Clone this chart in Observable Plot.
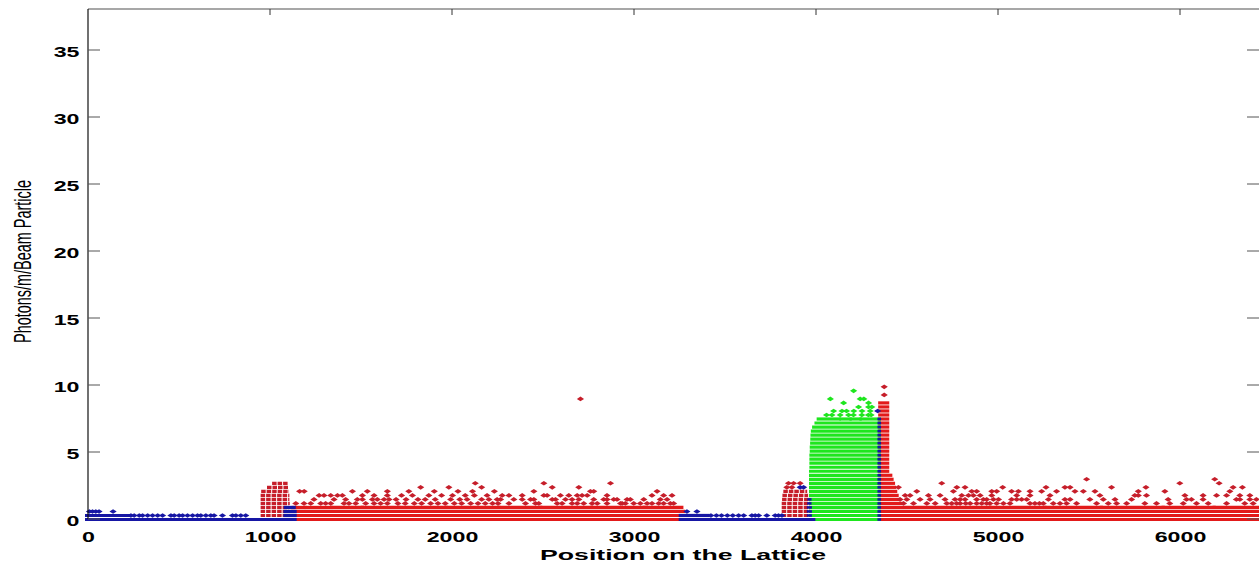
<!DOCTYPE html>
<html><head><meta charset="utf-8">
<script src="https://cdn.jsdelivr.net/npm/d3@7"></script>
<script src="https://cdn.jsdelivr.net/npm/@observablehq/plot@0.6"></script>
<style>
html,body{margin:0;padding:0;background:#fff;overflow:hidden}
#chart svg{display:block}
</style></head><body><div id="chart"></div>
<script>
// ---- tick labels / titles ----
const xTicks = [0, 1000, 2000, 3000, 4000, 5000, 6000];
const yTicks = [0, 5, 10, 15, 20, 25, 30, 35];
const xTitle = "Position on the Lattice";
const yTitle = "Photons/m/Beam Particle";

// ---- dense runs of points: [level, xStart, xEnd] ----
const redRows = [
  [0,1130,3265],[0.3,1130,3265],[0.6,1130,3265],
  [0.9,1135,1185],[0.9,1200,1330],[0.9,1345,1500],[0.9,1515,1700],[0.9,1715,1960],[0.9,1975,2250],
  [0.9,2265,2480],[0.9,2495,2760],[0.9,2775,3050],[0.9,3065,3255],
  [0,4358,6434],[0.3,4358,6434],[0.6,4358,6434],
  [0.9,4358,4740],[0.9,4755,4950],[0.9,4965,5250],[0.9,5265,5560],[0.9,5575,5900],[0.9,5915,6180],[0.9,6195,6434],
  [1.2,4358,4460],[1.5,4358,4445],[1.8,4358,4438],[2.1,4358,4430],[2.4,4358,4424],[2.7,4358,4418],
  [3.0,4358,4410],[3.3,4358,4403],
  [3.6,4358,4386],[3.9,4358,4386],[4.2,4358,4386],[4.5,4358,4386],[4.8,4358,4386],[5.1,4358,4386],
  [5.4,4358,4386],[5.7,4358,4386],[6.0,4358,4386],[6.3,4358,4386],[6.6,4358,4386],[6.9,4358,4386],
  [7.2,4358,4386],[7.5,4358,4386],[7.8,4358,4386],[8.1,4358,4386],[8.4,4358,4386],[8.7,4358,4386]
];
const clusterRows = [
  [0.3,965,1090],[0.6,965,1090],[0.9,965,1090],[1.2,965,1092],[1.5,965,1090],[1.8,965,1090],
  [2.1,968,1088],[2.4,1000,1085],[2.7,1028,1085],
  [0.3,3828,3950],[0.6,3828,3950],[0.9,3828,3950],[1.2,3828,3948],[1.5,3830,3945],[1.8,3832,3940],
  [2.1,3837,3935]
];
const greenRows = [
  [0,3978,4340],[0.3,3978,4340],[0.6,3978,4340],[0.9,3978,4340],[1.2,3978,4340],[1.5,3978,4340],
  [1.8,3978,4340],[2.1,3978,4340],[2.4,3978,4340],[2.7,3978,4340],[3.0,3978,4340],[3.3,3978,4340],
  [3.6,3978,4340],[3.9,3980,4340],[4.2,3980,4340],[4.5,3980,4340],[4.8,3980,4340],[5.1,3982,4340],
  [5.4,3982,4340],[5.7,3984,4340],[6.0,3985,4340],[6.3,3986,4340],[6.6,3988,4340],[6.9,3995,4340],
  [7.2,4008,4340],
  [7.5,4020,4120],[7.5,4145,4180],[7.5,4200,4235],[7.5,4255,4340]
];
const blueRows = [
  [0,0,1130],[0.3,0,215],[0.3,1090,1130],[0.6,1090,1130],[0.9,1092,1125],
  [0,3262,3980],[0.3,3262,3400]
];
const blueEdgeRows = [
  [0.3,3955,3972],[0.6,3955,3972],[0.9,3955,3972],[1.2,3957,3970],[1.5,3958,3970],
  [0,4343,4352],[0.3,4343,4352],[0.6,4343,4352],[0.9,4343,4352],[1.2,4343,4352],[1.5,4343,4352],
  [1.8,4343,4352],[2.1,4343,4352],[2.4,4343,4352],[2.7,4343,4352],[3.0,4343,4352],[3.3,4343,4352],
  [3.6,4343,4352],[3.9,4343,4352],[4.2,4343,4352],[4.5,4343,4352],[4.8,4343,4352],[5.1,4343,4352],
  [5.4,4343,4352],[5.7,4343,4352],[6.0,4343,4352],[6.3,4343,4352],[6.6,4343,4352],[6.9,4343,4352],
  [7.2,4343,4352],[7.5,4343,4352]
];

// ---- isolated points: [x, level] ----
const bluePts = [
  [233,0.3],[251,0.3],[279,0.3],[297,0.3],[325,0.3],[352,0.3],[380,0.3],[407,0.3],[453,0.3],[471,0.3],
  [498,0.3],[517,0.3],[544,0.3],[572,0.3],[599,0.3],[617,0.3],[645,0.3],[672,0.3],[690,0.3],[736,0.3],
  [791,0.3],[810,0.3],[837,0.3],[864,0.3],
  [5,0.6],[22,0.6],[40,0.6],[58,0.6],[135,0.6],
  [3420,0.3],[3450,0.3],[3478,0.3],[3510,0.3],[3540,0.3],[3572,0.3],[3600,0.3],[3645,0.3],[3663,0.3],
  [3682,0.3],[3727,0.3],[3773,0.3],[3791,0.3],[3810,0.3],
  [3288,0.6],[3343,0.6],
  [3910,2.4],[3929,2.4],[4336,8.1]
];
const greenPts = [
  [4055,7.8],[4085,7.8],[4130,7.8],[4176,7.8],[4203,7.8],[4249,7.8],[4285,7.8],[4300,7.8],
  [4094,8.1],[4140,8.1],[4165,8.1],[4205,8.1],[4250,8.1],[4295,8.1],
  [4231,8.4],[4286,8.4],[4304,8.4],
  [4149,8.7],[4286,8.7],
  [4076,9.0],[4240,9.0],[4260,9.0],
  [4204,9.6]
];
const redPts = [
  // 1130-3265
  [1139,1.2],[1184,1.2],[1221,1.2],[1276,1.2],[1303,1.2],[1331,1.2],[1404,1.2],[1431,1.2],[1468,1.2],[1523,1.2],
  [1569,1.2],[1605,1.2],[1642,1.2],[1700,1.2],[1740,1.2],[1790,1.2],[1830,1.2],[1880,1.2],[1920,1.2],[1960,1.2],
  [2010,1.2],[2050,1.2],[2100,1.2],[2140,1.2],[2180,1.2],[2220,1.2],[2250,1.2],[2310,1.2],[2401,1.2],[2456,1.2],
  [2474,1.2],[2575,1.2],[2602,1.2],[2657,1.2],[2685,1.2],[2721,1.2],[2767,1.2],[2795,1.2],[2849,1.2],[2923,1.2],
  [2932,1.2],[2950,1.2],[2996,1.2],[3032,1.2],[3069,1.2],[3096,1.2],[3133,1.2],[3160,1.2],[3197,1.2],[3215,1.2],
  [1239,1.5],[1349,1.5],[1413,1.5],[1477,1.5],[1505,1.5],[1560,1.5],[1587,1.5],[1624,1.5],[1651,1.5],[1690,1.5],
  [1745,1.5],[1810,1.5],[1850,1.5],[1905,1.5],[1990,1.5],[2040,1.5],[2080,1.5],[2160,1.5],[2200,1.5],[2245,1.5],
  [2264,1.5],[2337,1.5],[2383,1.5],[2429,1.5],[2447,1.5],[2548,1.5],[2566,1.5],[2621,1.5],[2657,1.5],[2694,1.5],
  [2776,1.5],[2831,1.5],[2849,1.5],[2886,1.5],[2904,1.5],[2959,1.5],[2977,1.5],[3051,1.5],[3142,1.5],[3179,1.5],
  [1267,1.8],[1294,1.8],[1331,1.8],[1368,1.8],[1395,1.8],[1505,1.8],[1569,1.8],[1642,1.8],[1720,1.8],[1780,1.8],
  [1870,1.8],[1940,1.8],[2000,1.8],[2070,1.8],[2120,1.8],[2190,1.8],[2273,1.8],[2310,1.8],[2383,1.8],[2502,1.8],
  [2520,1.8],[2593,1.8],[2639,1.8],[2685,1.8],[2712,1.8],[2740,1.8],[2849,1.8],[3096,1.8],[3160,1.8],[3206,1.8],
  [1160,2.1],[1185,2.1],[1450,2.1],[1532,2.1],[1642,2.1],[1760,2.1],[1900,2.1],[2030,2.1],[2110,2.1],[2230,2.1],
  [2447,2.1],[2758,2.1],[2776,2.1],[3124,2.1],
  [1825,2.4],[1980,2.4],[2160,2.4],[2548,2.4],[2694,2.4],
  [2125,2.7],[2502,2.7],[2868,2.7],
  [2703,9.0],
  // cluster near 3900
  [3837,2.4],[3865,2.4],[3846,2.7],[3874,2.7],[3910,2.7],
  // 4360-6434
  [4372,9.3],[4372,9.9],
  [4478,1.2],[4533,1.2],[4606,1.2],[4652,1.2],[4716,1.2],[4743,1.2],[4770,1.2],[4789,1.2],[4820,1.2],[4844,1.2],
  [4880,1.2],[4908,1.2],[4935,1.2],[4953,1.2],[4990,1.2],[5027,1.2],[5063,1.2],[5173,1.2],[5200,1.2],[5225,1.2],
  [5246,1.2],[5301,1.2],[5338,1.2],[5374,1.2],[5429,1.2],[5539,1.2],[5603,1.2],[5649,1.2],[5704,1.2],[5804,1.2],
  [5868,1.2],[5941,1.2],[6015,1.2],[6088,1.2],[6152,1.2],[6253,1.2],[6353,1.2],[6399,1.2],
  [4459,1.5],[4496,1.5],[4569,1.5],[4624,1.5],[4706,1.5],[4761,1.5],[4789,1.5],[4816,1.5],[4880,1.5],[4917,1.5],
  [4935,1.5],[4972,1.5],[5000,1.5],[5072,1.5],[5100,1.5],[5127,1.5],[5155,1.5],[5274,1.5],[5365,1.5],[5393,1.5],
  [5502,1.5],[5576,1.5],[5640,1.5],[5731,1.5],[5932,1.5],[6033,1.5],[6060,1.5],[6124,1.5],[6307,1.5],[6326,1.5],
  [6381,1.5],[6417,1.5],
  [4487,1.8],[4514,1.8],[4615,1.8],[4679,1.8],[4798,1.8],[4835,1.8],[4862,1.8],[4899,1.8],[4963,1.8],[5100,1.8],
  [5173,1.8],[5283,1.8],[5557,1.8],[5749,1.8],[5768,1.8],[5813,1.8],[6024,1.8],[6124,1.8],[6198,1.8],[6253,1.8],
  [6326,1.8],[6381,1.8],
  [4551,2.1],[4752,2.1],[4853,2.1],[4880,2.1],[4963,2.1],[4990,2.1],[5072,2.1],[5109,2.1],[5173,2.1],[5237,2.1],
  [5319,2.1],[5420,2.1],[5466,2.1],[5530,2.1],[5768,2.1],[5914,2.1],[6271,2.1],
  [4450,2.4],[4771,2.4],[4816,2.4],[5023,2.4],[5261,2.4],[5365,2.4],[5393,2.4],[5621,2.4],[5810,2.4],[6289,2.4],
  [6340,2.4],
  [4688,2.7],[5996,2.7],[6212,2.7],
  [5484,3.0],[6188,3.0]
];

const BLUE = "#1616a4", RED = "#e21a1a", REDPT = "#c61e2a", GREEN = "#1ee61e";

// small horizontally-stretched diamond used for each point
const hDiamond = {draw(ctx) { ctx.moveTo(-3.6, 0); ctx.lineTo(0, -2.3); ctx.lineTo(3.6, 0); ctx.lineTo(0, 2.3); ctx.closePath(); }};

const rowOpts = (color, extra = {}) => ({y: d => d[0], x1: d => d[1], x2: d => d[2], stroke: color, strokeWidth: 3.2, insetLeft: -3, insetRight: -3, ...extra});
const ptOpts = (color) => ({x: d => d[0], y: d => d[1], symbol: hDiamond, fill: color, stroke: "none"});

const chart = Plot.plot({
  width: 1259, height: 566,
  marginLeft: 88, marginRight: 0, marginTop: 9, marginBottom: 47,
  x: {domain: [0, 6434], label: null},
  y: {domain: [0, 38.06], label: null},
  style: {fontFamily: "'Liberation Sans', Arial, Helvetica, sans-serif", fontSize: "14.5px", background: "#fff", color: "#000", overflow: "visible"},
  marks: [
    Plot.ruleY(redRows, rowOpts(RED)),
    Plot.ruleY(clusterRows, rowOpts(REDPT, {strokeDasharray: "4.5 1"})),
    Plot.ruleY(greenRows, rowOpts(GREEN)),
    Plot.ruleY(blueRows, rowOpts(BLUE)),
    Plot.ruleY(blueEdgeRows, rowOpts(BLUE, {insetLeft: -1, insetRight: -1, strokeWidth: 2.6})),
    Plot.dot(redPts, ptOpts(REDPT)),
    Plot.dot(greenPts, ptOpts(GREEN)),
    Plot.dot(bluePts, ptOpts(BLUE)),
    Plot.axisX({ticks: xTicks, tickSize: 0, tickPadding: 12, tickFormat: "d", fontWeight: "bold"}),
    Plot.axisY({ticks: yTicks, tickSize: 0, tickPadding: 9, dy: 2, tickFormat: "d", fontWeight: "bold"})
  ]
});
document.getElementById("chart").appendChild(chart);

// ---- frame, inward ticks, stretched labels, titles ----
const svg = d3.select(chart);
const sx = chart.scale("x"), sy = chart.scale("y");
const [X0, X1] = sx.range, [Y0, Y1] = sy.range;
const deco = svg.append("g");
deco.append("line").attr("x1", X0).attr("x2", X1).attr("y1", Y1).attr("y2", Y1).attr("stroke", "#8a8a8a").attr("stroke-width", 1.5);
deco.append("line").attr("x1", X0).attr("x2", X0).attr("y1", Y1).attr("y2", Y0).attr("stroke", "#111").attr("stroke-width", 1.2);
yTicks.forEach(v => {
  const y = sy.apply(v);
  deco.append("line").attr("x1", X0).attr("x2", X0 + 12).attr("y1", y).attr("y2", y).attr("stroke", "#555");
  deco.append("line").attr("x1", X1 - 12).attr("x2", X1).attr("y1", y).attr("y2", y).attr("stroke", "#555");
});
xTicks.filter(v => v > 0).forEach(v => {
  const x = sx.apply(v);
  deco.append("line").attr("x1", x).attr("x2", x).attr("y1", Y1).attr("y2", Y1 + 6).attr("stroke", "#333");
});
svg.selectAll('g[aria-label="x-axis tick label"] text, g[aria-label="y-axis tick label"] text').each(function () {
  const t = this.getAttribute("transform") || "";
  this.setAttribute("transform", t + " scale(1.6,1)");
});
svg.append("text").text(xTitle)
  .attr("x", 683).attr("y", 560).attr("text-anchor", "middle").attr("font-weight", "bold")
  .attr("font-size", 15.5).attr("textLength", 286).attr("lengthAdjust", "spacingAndGlyphs").attr("fill", "#000");
svg.append("text").text(yTitle)
  .attr("transform", "translate(31,261.5) rotate(-90) scale(1,1.7)").attr("text-anchor", "middle")
  .attr("font-size", 14.4).attr("textLength", 163).attr("lengthAdjust", "spacingAndGlyphs").attr("fill", "#000");
</script>
</body></html>
